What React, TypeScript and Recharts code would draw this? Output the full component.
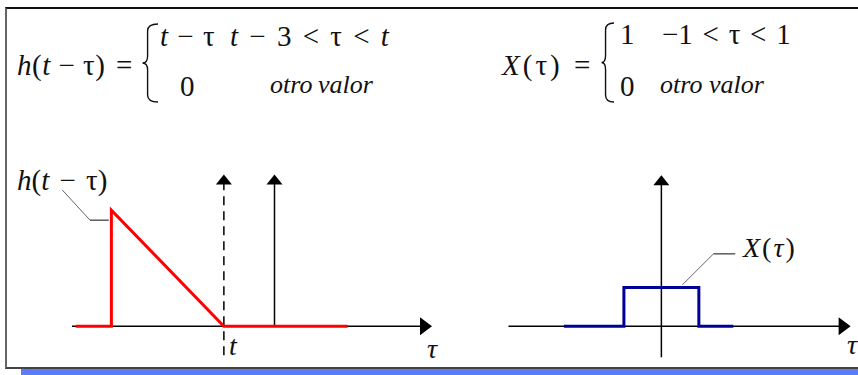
import { ComposedChart, Line, Scatter, XAxis, YAxis, ReferenceLine } from "recharts";

// h(t - tau): triangle that starts at t-3 with height 3 and falls to 0 at t
const hTau = [-5.3, -4.35, -4.35, -1.35, 1.95];
const hValue = [0, 0, 3, 0, 0];
const tValue = -1.35;

// X(tau): unit pulse between -1 and 1
const xTau = [-2.6, -1, -1, 1, 1, 1.92];
const xValue = [0, 0, 1, 1, 0, 0];

const hData = hTau.map((x, i) => ({ x, y: hValue[i] }));
const xData = xTau.map((x, i) => ({ x, y: xValue[i] }));

const leftArrows = [
  { x: 4.2, y: 0, dir: "right" },
  { x: tValue, y: 3.92, dir: "up" },
  { x: 0, y: 3.92, dir: "up" }
];
const rightArrows = [
  { x: 5.05, y: 0, dir: "right" },
  { x: 0, y: 3.9, dir: "up" }
];

const serif = '"Liberation Serif", Tinos, "DejaVu Serif", "Noto Serif", serif';
const ink = "#111";

function Arrow(props: any) {
  const { cx, cy, payload } = props;
  if (cx == null || cy == null) return null;
  const pts =
    payload.dir === "right"
      ? `${cx},${cy} ${cx - 12},${cy - 9} ${cx - 12},${cy + 9}`
      : `${cx},${cy} ${cx - 8},${cy + 10} ${cx + 8},${cy + 10}`;
  return <polygon points={pts} fill="#000" />;
}

function Brace({ left, top, width, height }: { left: number; top: number; width: number; height: number }) {
  const w = width;
  const h = height;
  const m = h / 2;
  const d = `M ${w} 1 Q ${w * 0.35} 1 ${w * 0.35} 8 L ${w * 0.35} ${m - 7} Q ${w * 0.35} ${m} 0.5 ${m} Q ${w * 0.35} ${m} ${w * 0.35} ${m + 7} L ${w * 0.35} ${h - 8} Q ${w * 0.35} ${h - 1} ${w} ${h - 1}`;
  return (
    <svg style={{ position: "absolute", left, top }} width={w} height={h}>
      <path d={d} fill="none" stroke={ink} strokeWidth={1.4} />
    </svg>
  );
}

function T({ left, top, size = 29, italic = false, children, ws = 0, ls = 0 }: any) {
  return (
    <div
      style={{
        position: "absolute",
        left,
        top,
        fontFamily: serif,
        fontSize: size,
        lineHeight: 1,
        fontStyle: italic ? "italic" : "normal",
        whiteSpace: "pre",
        wordSpacing: ws,
        letterSpacing: ls,
        color: ink
      }}
    >
      {children}
    </div>
  );
}

const I = ({ children }: any) => <span style={{ fontStyle: "italic" }}>{children}</span>;

export default function App() {
  return (
    <div
      style={{
        position: "absolute",
        left: 0,
        top: 0,
        width: 858,
        height: 375,
        overflow: "hidden",
        background: "#fff"
      }}
    >
      {/* frame with drop shadow */}
      <div style={{ position: "absolute", left: 21, top: 368, width: 860, height: 8, background: "#5b7cf6" }} />
      <div
        style={{
          position: "absolute",
          left: 5,
          top: 7,
          width: 870,
          height: 358,
          borderTop: "2px solid #111",
          borderLeft: "2px solid #666",
          borderBottom: "2px solid #444",
          background: "#fff"
        }}
      />

      {/* left chart: h(t - tau) */}
      <div style={{ position: "absolute", left: 12, top: 152 }}>
        <ComposedChart width={450} height={213} margin={{ top: 0, right: 0, bottom: 0, left: 0 }}>
          <XAxis type="number" dataKey="x" domain={[-7, 5]} hide allowDataOverflow />
          <YAxis type="number" dataKey="y" domain={[-1, 4.5]} hide allowDataOverflow />
          <ReferenceLine segment={[{ x: -5.4, y: 0 }, { x: 4.0, y: 0 }]} stroke="#000" strokeWidth={1.5} />
          <ReferenceLine segment={[{ x: 0, y: 0 }, { x: 0, y: 3.7 }]} stroke="#000" strokeWidth={1.5} />
          <ReferenceLine
            segment={[{ x: tValue, y: -0.75 }, { x: tValue, y: 3.7 }]}
            stroke="#000"
            strokeWidth={1.5}
            strokeDasharray="9 6"
          />
          <ReferenceLine segment={[{ x: -5.66, y: 3.52 }, { x: -4.92, y: 2.74 }]} stroke="#666" strokeWidth={1} />
          <ReferenceLine segment={[{ x: -4.92, y: 2.74 }, { x: -4.42, y: 2.74 }]} stroke="#333" strokeWidth={1.2} />
          <Line
            data={hData}
            dataKey="y"
            type="linear"
            stroke="#ff0000"
            strokeWidth={3}
            dot={false}
            isAnimationActive={false}
          />
          <Scatter data={leftArrows} dataKey="y" shape={Arrow} isAnimationActive={false} />
        </ComposedChart>
      </div>

      {/* right chart: X(tau) */}
      <div style={{ position: "absolute", left: 474, top: 152 }}>
        <ComposedChart width={386} height={213} margin={{ top: 0, right: 0, bottom: 0, left: 0 }}>
          <XAxis type="number" dataKey="x" domain={[-5, 5.3]} hide allowDataOverflow />
          <YAxis type="number" dataKey="y" domain={[-1, 4.5]} hide allowDataOverflow />
          <ReferenceLine segment={[{ x: -4.08, y: 0 }, { x: 4.8, y: 0 }]} stroke="#000" strokeWidth={1.5} />
          <ReferenceLine segment={[{ x: 0, y: -0.8 }, { x: 0, y: 3.7 }]} stroke="#000" strokeWidth={1.5} />
          <ReferenceLine segment={[{ x: 0.56, y: 1.07 }, { x: 1.39, y: 1.87 }]} stroke="#666" strokeWidth={1} />
          <ReferenceLine segment={[{ x: 1.39, y: 1.87 }, { x: 1.97, y: 1.87 }]} stroke="#333" strokeWidth={1.2} />
          <Line
            data={xData}
            dataKey="y"
            type="linear"
            stroke="#000099"
            strokeWidth={3}
            dot={false}
            isAnimationActive={false}
          />
          <Scatter data={rightArrows} dataKey="y" shape={Arrow} isAnimationActive={false} />
        </ComposedChart>
      </div>

      {/* formula: h(t - tau) */}
      <T left={17} top={51} ls={0.5}>
        <I>h</I>(<I>t</I> − τ)
      </T>
      <T left={116} top={51}>=</T>
      <Brace left={142} top={23} width={16} height={80} />
      <T left={160} top={22} ws={2}>
        <I>t</I> − τ
      </T>
      <T left={230} top={22} ws={4}>
        <I>t</I> − 3 &lt; τ &lt; <I>t</I>
      </T>
      <T left={180} top={72}>0</T>
      <T left={270} top={72} size={26} italic ws={-1}>
        otro valor
      </T>

      {/* formula: X(tau) */}
      <T left={502} top={51} ls={3}>
        <I>X</I>(τ)
      </T>
      <T left={574} top={51}>=</T>
      <Brace left={601} top={22} width={13} height={81} />
      <T left={620} top={20}>1</T>
      <T left={662} top={20} ws={2.5}>
        −1 &lt; τ &lt; 1
      </T>
      <T left={620} top={72}>0</T>
      <T left={660} top={72} size={26} italic>
        otro valor
      </T>

      {/* plot labels */}
      <T left={17} top={166} size={29} ws={3}>
        <I>h</I>(<I>t</I> − τ)
      </T>
      <T left={229} top={332} italic size={28}>t</T>
      <T left={427} top={335} italic size={28}>τ</T>
      <T left={743} top={234} size={28} ls={2}>
        <I>X</I>(<I>τ</I>)
      </T>
      <T left={847} top={331} italic size={28}>τ</T>
    </div>
  );
}
